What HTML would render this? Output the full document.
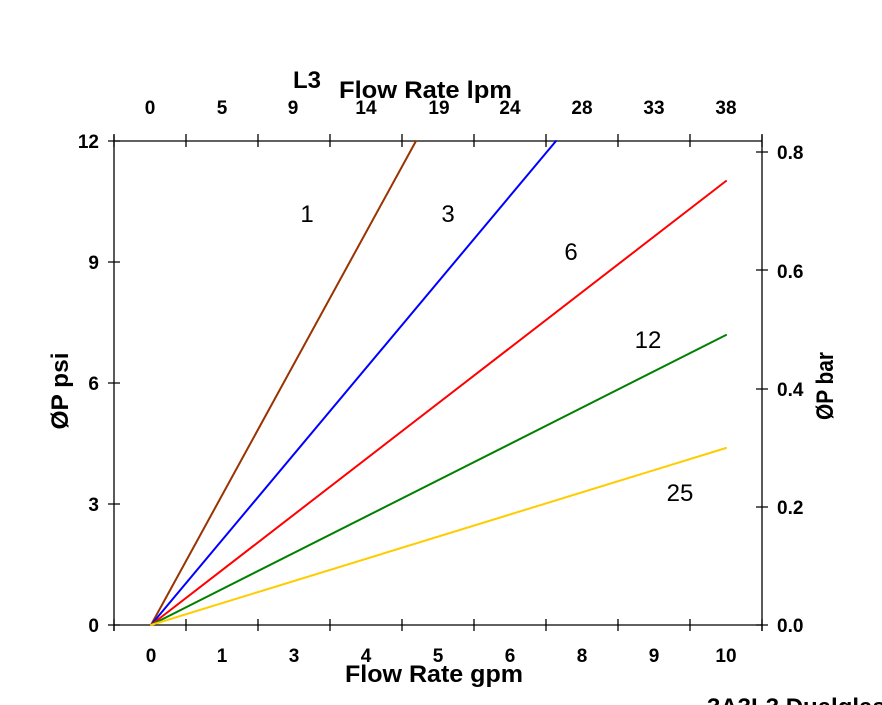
<!DOCTYPE html>
<html>
<head>
<meta charset="utf-8">
<style>
html,body{margin:0;padding:0;background:#fff;}
svg{display:block;}
text{font-family:"Liberation Sans",Arial,sans-serif;fill:#000;}
.b{font-weight:bold;}
</style>
</head>
<body>
<svg width="882" height="705" viewBox="0 0 882 705" xmlns="http://www.w3.org/2000/svg">
<rect width="882" height="705" fill="#fff"/>
<!-- frame -->
<g stroke="#000" stroke-width="1.3" fill="none">
<line x1="114" y1="141" x2="762" y2="141"/>
<line x1="114" y1="625" x2="762" y2="625"/>
<line x1="114" y1="135" x2="114" y2="631"/>
<line x1="762" y1="135" x2="762" y2="631"/>
<!-- bottom ticks -->
<path d="M114 619V631M186 619V631M258 619V631M330 619V631M402 619V631M474 619V631M546 619V631M618 619V631M690 619V631M762 619V631"/>
<!-- top ticks -->
<path d="M114 134V147M186 134V147M258 134V147M330 134V147M402 134V147M474 134V147M546 134V147M618 134V147M690 134V147M762 134V147"/>
<!-- left ticks -->
<path d="M108 625H120M108 504H120M108 383H120M108 262H120M108 141H120"/>
<!-- right ticks -->
<path d="M756 625H768M756 507H768M756 389H768M756 270H768M756 152H768"/>
</g>
<!-- series -->
<g fill="none" stroke-width="2" stroke-linecap="round">
<line x1="151" y1="625" x2="416" y2="141" stroke="#993300"/>
<line x1="151" y1="625" x2="556" y2="141" stroke="#0000ff"/>
<line x1="151" y1="625" x2="726" y2="181" stroke="#ff0000"/>
<line x1="151" y1="625" x2="726" y2="335" stroke="#008000"/>
<line x1="151" y1="625" x2="726" y2="448" stroke="#ffcc00"/>
</g>
<!-- series labels -->
<g font-size="24" text-anchor="middle">
<text x="307" y="222">1</text>
<text x="448" y="222">3</text>
<text x="571" y="260">6</text>
<text x="648" y="348">12</text>
<text x="680" y="501">25</text>
</g>
<!-- bottom tick labels -->
<g class="b" font-size="19" text-anchor="middle">
<text x="151" y="662">0</text>
<text x="222" y="662">1</text>
<text x="294" y="662">3</text>
<text x="366" y="662">4</text>
<text x="438" y="662">5</text>
<text x="510" y="662">6</text>
<text x="582" y="662">8</text>
<text x="654" y="662">9</text>
<text x="726" y="662">10</text>
</g>
<!-- top tick labels -->
<g class="b" font-size="19" text-anchor="middle">
<text x="150" y="114">0</text>
<text x="222" y="114">5</text>
<text x="293" y="114">9</text>
<text x="366" y="114">14</text>
<text x="439" y="114">19</text>
<text x="510" y="114">24</text>
<text x="582" y="114">28</text>
<text x="654" y="114">33</text>
<text x="726" y="114">38</text>
</g>
<!-- left tick labels -->
<g class="b" font-size="19" text-anchor="end">
<text x="99" y="148">12</text>
<text x="99" y="269">9</text>
<text x="99" y="390">6</text>
<text x="99" y="511">3</text>
<text x="99" y="632">0</text>
</g>
<!-- right tick labels -->
<g class="b" font-size="19" text-anchor="start">
<text x="777" y="159">0.8</text>
<text x="777" y="278">0.6</text>
<text x="777" y="396">0.4</text>
<text x="777" y="514">0.2</text>
<text x="777" y="632">0.0</text>
</g>
<!-- axis titles -->
<text class="b" font-size="24" x="345" y="682" textLength="178" lengthAdjust="spacingAndGlyphs">Flow Rate gpm</text>
<text class="b" font-size="24" x="339" y="98" textLength="173" lengthAdjust="spacingAndGlyphs">Flow Rate lpm</text>
<text class="b" font-size="24" x="293" y="88">L3</text>
<text class="b" font-size="24" transform="translate(68,391) rotate(-90)" text-anchor="middle" textLength="77" lengthAdjust="spacingAndGlyphs">ØP psi</text>
<text class="b" font-size="24" transform="translate(833,386) rotate(-90)" text-anchor="middle" textLength="68" lengthAdjust="spacingAndGlyphs">ØP bar</text>
<text class="b" font-size="24" x="707" y="715">3A3L3 Dualglass</text>
</svg>
</body>
</html>
